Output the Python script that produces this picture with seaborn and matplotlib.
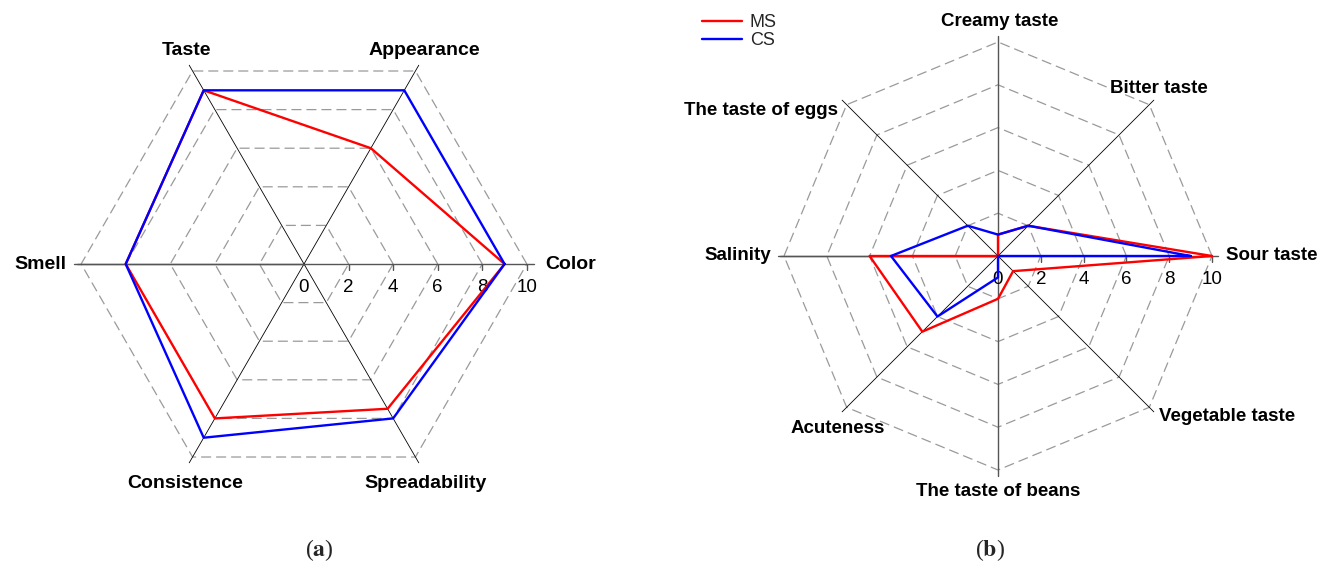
import numpy as np
import pandas as pd
import matplotlib
import matplotlib.pyplot as plt
import seaborn as sns

matplotlib.use('Agg')

# (a) general sensory scores
attrs_a = ['Color', 'Appearance', 'Taste', 'Smell', 'Consistence', 'Spreadability']
ms_a = [9, 6, 9, 8, 8, 7.5]
cs_a = [9, 9, 9, 8, 9, 8]

# (b) taste profile
attrs_b = ['Sour taste', 'Bitter taste', 'Creamy taste', 'The taste of eggs',
           'Salinity', 'Acuteness', 'The taste of beans', 'Vegetable taste']
ms_b = [10, 2, 1, 0, 6, 5, 2, 1]
cs_b = [9, 2, 1, 2, 5, 4, 1, 0]

samples = ['MS', 'CS']
ticks = [0, 2, 4, 6, 8, 10]

sns.set_theme(style="white")
plt.rcParams['font.family'] = ['Liberation Sans', 'DejaVu Sans']

pal = {'MS': '#ff0000', 'CS': '#0000ff'}


def radar_frame(attrs, ms, cs):
    n = len(attrs)
    ang = np.linspace(0, 2 * np.pi, n, endpoint=False)
    rows = []
    for name, vals in zip(samples, [ms, cs]):
        for k in range(n + 1):
            rows.append({'angle': ang[k % n], 'score': vals[k % n], 'sample': name})
    return pd.DataFrame(rows), ang


def draw_radar(ax, attrs, ms, cs, label_pos, fs, legend):
    df, ang = radar_frame(attrs, ms, cs)
    n = len(attrs)
    closed = np.append(ang, ang[0])
    # dashed polygon grid
    for r in ticks[1:]:
        ax.plot(closed, [r] * (n + 1), ls=(0, (8, 4)), color='#9a9a9a', lw=0.9, zorder=1)
    # spokes
    for a in ang:
        main = np.isclose(np.sin(a), 0) or (n == 8 and np.isclose(np.cos(a), 0))
        ax.plot([a, a], [0, 10.3], color='#555555' if main else 'black',
                lw=1.0 if main else 0.6, zorder=2)
    ax.plot([np.pi, np.pi], [0, 10.2], color='#555555', lw=1.0, zorder=2)
    # ticks along the first spoke
    ax.plot([0] * 5, ticks[1:], ls='none', marker=3, ms=4, color='#555555', zorder=2)
    for t in ticks:
        ax.annotate(str(t), xy=(0, t), xytext=(0, -17), textcoords='offset points',
                    ha='center', va='center', fontsize=13.5, color='black')

    sns.lineplot(data=df, x='angle', y='score', hue='sample', hue_order=samples,
                 palette=pal, sort=False, estimator=None, lw=1.7, ax=ax,
                 legend=legend, zorder=3)

    for a, lab, (dx, dy, ha) in zip(ang, attrs, label_pos):
        ax.annotate(lab, xy=(a, 10), xytext=(dx * 0.72, dy * 0.72),
                    textcoords='offset points', ha=ha, va='center',
                    fontsize=fs, fontweight='bold', color='black')

    ax.set_rlim(0, 10.5)
    ax.set_axis_off()


fig = plt.figure(figsize=(13.18, 5.64), dpi=100)

ax1 = fig.add_axes([0.0531, 0.117, 0.3551, 0.8298], projection='polar')
pos_a = [(18, 0, 'left'), (8.5, 21, 'center'), (-6.5, 21, 'center'),
         (-15, 0, 'right'), (-7.5, -26, 'center'), (10.5, -26, 'center')]
draw_radar(ax1, attrs_a, ms_a, cs_a, pos_a, 14, False)

ax2 = fig.add_axes([0.5867, 0.1477, 0.341, 0.7968], projection='polar')
pos_b = [(14, 0, 'left'), (10, 16, 'center'), (2, 21, 'center'),
         (-9, -6, 'right'), (-13, 0, 'right'), (-9, -21, 'center'),
         (0, -22, 'center'), (10, -9, 'left')]
draw_radar(ax2, attrs_b, ms_b, cs_b, pos_b, 13.5, True)

leg = ax2.legend(loc='upper left', bbox_to_anchor=(702 / 1318, 1 - 14 / 564),
                 bbox_transform=fig.transFigure, frameon=False, fontsize=13,
                 handlelength=2.2, handletextpad=0.45, labelspacing=0.05,
                 borderpad=0, borderaxespad=0)
for line in leg.get_lines():
    line.set_linewidth(1.7)

cap = dict(ha='center', va='center', fontsize=17, family=['Liberation Serif', 'DejaVu Serif'])
plt.rcParams['mathtext.fontset'] = 'stix'
fig.text(319 / 1318, 1 - 550 / 564, r'($\mathbf{a}$)', **cap)
fig.text(990 / 1318, 1 - 550 / 564, r'($\mathbf{b}$)', **cap)

plt.savefig("out.png", dpi=100)
